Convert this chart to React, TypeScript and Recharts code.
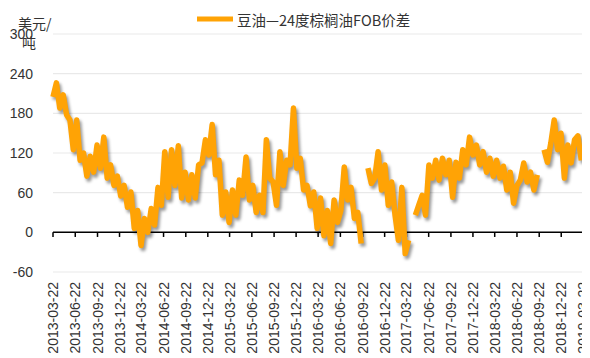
import React from 'react';
import { LineChart, Line, XAxis, YAxis, CartesianGrid, ReferenceLine, Legend } from 'recharts';

// Soybean oil vs 24° palm oil FOB spread, sampled every two weeks (USD/t)
const START_DATE = '2013-03-22';
const STEP_DAYS = 14;
const SERIES_NAME = '豆油—24度棕榈油FOB价差';

const spread: (number | null)[] = [
  205, 226, 188, 208, 178, 170, 125, 170, 109, 120,
  85, 115, 91, 132, 97, 144, 82, 102, 71, 85,
  55, 71, 38, 61, 6, 33, -20, 21, 0, 36,
  11, 68, 41, 122, 53, 125, 71, 131, 52, 91,
  49, 87, 52, 102, 105, 140, 117, 163, 87, 109,
  26, 61, 15, 64, 26, 79, 56, 114, 49, 71,
  30, 56, 30, 140, 82, 76, 41, 122, 71, 109,
  102, 188, 97, 112, 64, 71, 40, 61, 6, 52,
  -5, 33, -17, 49, 15, 33, 99, 49, 68, 21,
  30, -17, null, 97, 74, 82, 122, 64, 102, 41,
  76, 26, -12, 68, -32, -12, null, 26, 41, 56,
  26, 102, 82, 109, 79, 112, 87, 109, 53, 106,
  82, 125, 102, 144, 117, 132, 102, 122, 91, 112,
  85, 109, 82, 100, 64, 91, 44, 71, 79, 105,
  76, 91, 64, 87, null, 125, 106, 135, 170, 125,
  150, 82, 132, 105, 140, 146, 109,
];

const tickDates = [
  '2013-03-22', '2013-06-22', '2013-09-22', '2013-12-22',
  '2014-03-22', '2014-06-22', '2014-09-22', '2014-12-22',
  '2015-03-22', '2015-06-22', '2015-09-22', '2015-12-22',
  '2016-03-22', '2016-06-22', '2016-09-22', '2016-12-22',
  '2017-03-22', '2017-06-22', '2017-09-22', '2017-12-22',
  '2018-03-22', '2018-06-22', '2018-09-22', '2018-12-22',
  '2019-03-22',
];

const yTicks = [-60, 0, 60, 120, 180, 240, 300];

const ORANGE = '#FFA305';
const TEXT = '#333333';
const LATIN_FONT = '"Liberation Sans", Arial, sans-serif';
const CJK_FONT = '"Noto Sans CJK SC", sans-serif';

const DAY_MS = 86400000;
const startMs = Date.parse(START_DATE);
const toDay = (d: string) => Math.round((Date.parse(d) - startMs) / DAY_MS);

const data = spread.map((v, i) => ({ day: i * STEP_DAYS, spread: v }));
const tickDays = tickDates.map(toDay);
const labelByDay = new Map(tickDays.map((d, i) => [d, tickDates[i]]));
const lastDay = tickDays[tickDays.length - 1];

const DateTick = (props: any) => {
  const { x, y, payload } = props;
  return (
    <text
      x={x}
      y={y}
      transform={`rotate(-90 ${x} ${y})`}
      textAnchor="end"
      dy="0.36em"
      fontSize={14}
      fontFamily={LATIN_FONT}
      fill={TEXT}
    >
      {labelByDay.get(payload.value)}
    </text>
  );
};

const renderLegend = () => (
  <div style={{ display: 'flex', alignItems: 'center', paddingLeft: 189, height: 22 }}>
    <svg width={36} height={8} style={{ display: 'block' }}>
      <line x1={0} y1={4} x2={36} y2={4} stroke={ORANGE} strokeWidth={5} />
    </svg>
    <span style={{ marginLeft: 4, fontSize: 14.5, fontFamily: CJK_FONT, color: TEXT, whiteSpace: 'nowrap' }}>
      {SERIES_NAME}
    </span>
  </div>
);

const unitLabel = () => (
  <g fontFamily={CJK_FONT} fontSize={14} fill={TEXT}>
    <text x={10} y={21}>美元/</text>
    <text x={14} y={40}>吨</text>
  </g>
);

export default function App() {
  return (
    <div style={{ position: 'relative', width: 582, height: 350 }}>
      <style>{`
        .recharts-line-curve { filter: drop-shadow(2px 3px 1.5px rgba(0,0,0,0.4)); }
        .recharts-surface { overflow: visible; }
      `}</style>
      <LineChart width={582} height={350} data={data} margin={{ top: 26, right: 7, bottom: 0, left: 0 }}>
        <CartesianGrid horizontal vertical={false} stroke="#e9e9e9" strokeWidth={1.2} />
        <XAxis
          dataKey="day"
          type="number"
          domain={[0, lastDay]}
          ticks={tickDays}
          interval={0}
          axisLine={false}
          tickLine={false}
          tickSize={0}
          tickMargin={10}
          height={86}
          tick={<DateTick />}
        />
        <YAxis
          type="number"
          domain={[-60, 300]}
          ticks={yTicks}
          interval={0}
          width={45}
          axisLine={false}
          tickLine={false}
          tickSize={0}
          tickMargin={20}
          tick={{ fontSize: 14, fill: TEXT, fontFamily: LATIN_FONT }}
          label={{ content: unitLabel }}
        />
        <ReferenceLine y={0} stroke="#000" strokeWidth={1.5} />
        {tickDays.map((d) => (
          <ReferenceLine
            key={d}
            segment={[{ x: d, y: 0 }, { x: d, y: -7 }]}
            stroke="#000"
            strokeWidth={1.5}
          />
        ))}
        <Legend
          layout="horizontal"
          verticalAlign="middle"
          align="center"
          wrapperStyle={{ top: 0, left: 0, width: 582 }}
          content={renderLegend}
        />
        <Line
          type="linear"
          dataKey="spread"
          name={SERIES_NAME}
          stroke={ORANGE}
          strokeWidth={5.5}
          strokeLinejoin="round"
          dot={false}
          activeDot={false}
          connectNulls={false}
          isAnimationActive={false}
        />
      </LineChart>
    </div>
  );
}
